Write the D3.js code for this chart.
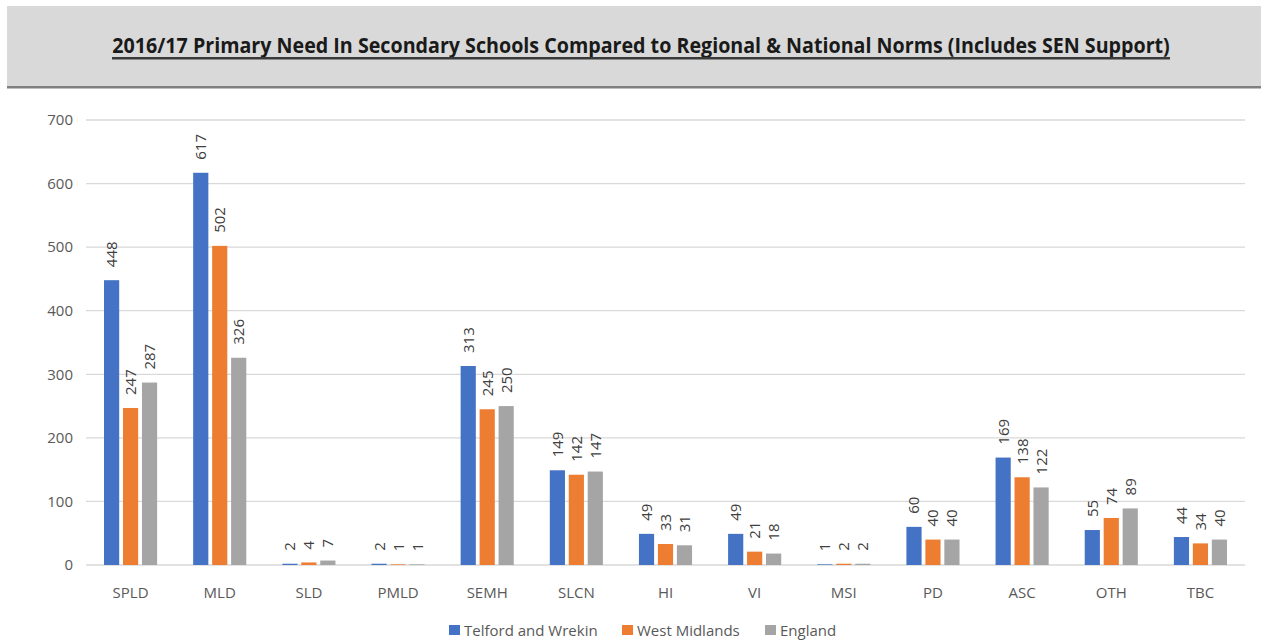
<!DOCTYPE html>
<html>
<head>
<meta charset="utf-8">
<script src="https://cdn.jsdelivr.net/npm/d3@7"></script>
<style>
  html, body { margin: 0; padding: 0; background: #ffffff; }
  svg { display: block; }
</style>
</head>
<body>
<svg id="chart" width="1261" height="641"></svg>
<script>
// Primary need categories and counts per area
const categories = ["SPLD", "MLD", "SLD", "PMLD", "SEMH", "SLCN", "HI", "VI", "MSI", "PD", "ASC", "OTH", "TBC"];
const seriesNames = ["Telford and Wrekin", "West Midlands", "England"];
const telford = [448, 617, 2, 2, 313, 149, 49, 49, 1, 60, 169, 55, 44];
const westMidlands = [247, 502, 4, 1, 245, 142, 33, 21, 2, 40, 138, 74, 34];
const england = [287, 326, 7, 1, 250, 147, 31, 18, 2, 40, 122, 89, 40];
const yTicks = [0, 100, 200, 300, 400, 500, 600, 700];
const titleText = "2016/17 Primary Need In Secondary Schools Compared to Regional & National Norms (Includes SEN Support)";

const colors = ["#4472C4", "#ED7D31", "#A5A5A5"];
const seriesValues = [telford, westMidlands, england];

const svg = d3.select("#chart");
const W = 1261;
const font = "'Open Sans', sans-serif";

// Header band
svg.append("rect").attr("x", 7).attr("y", 6).attr("width", W - 7).attr("height", 80).attr("fill", "#d9d9d9");
svg.append("rect").attr("x", 7).attr("y", 86).attr("width", W - 7).attr("height", 2.5).attr("fill", "#808080");

// Title, narrowed horizontally to a fixed width, with underline
const titleCenter = 641, titleWidth = 1058;
const title = svg.append("text")
  .attr("text-anchor", "middle")
  .attr("font-family", font)
  .attr("font-weight", "bold")
  .attr("font-size", 22)
  .attr("fill", "#1a1a1a")
  .text(titleText);
const natural = title.node().getComputedTextLength();
const sx = Math.min(1, titleWidth / natural);
title.attr("transform", `translate(${titleCenter},53) scale(${sx},1)`);
svg.append("rect").attr("x", titleCenter - titleWidth / 2).attr("y", 57)
  .attr("width", titleWidth).attr("height", 2.5).attr("fill", "#3a3a3a");

// Plot area
const x0 = d3.scaleBand().domain(categories).range([86, 1245]).paddingInner(0).paddingOuter(0);
const x1 = d3.scaleBand().domain(seriesNames).range([0, x0.bandwidth()]).paddingInner(0.2).paddingOuter(0.95);
const y = d3.scaleLinear().domain([0, 700]).range([565, 120]);

// Gridlines
svg.append("g").selectAll("line").data(yTicks).join("line")
  .attr("x1", 86).attr("x2", 1245)
  .attr("y1", d => y(d)).attr("y2", d => y(d))
  .attr("stroke", "#d9d9d9").attr("stroke-width", 1.3);

// Y axis labels
const yAxis = svg.append("g").attr("transform", "translate(79,0)")
  .call(d3.axisLeft(y).tickValues(yTicks).tickSize(0).tickPadding(6));
yAxis.select(".domain").remove();
yAxis.selectAll("text").attr("font-family", font).attr("font-size", 15).attr("fill", "#595959");

// X axis labels
const xAxis = svg.append("g").attr("transform", "translate(0,583)")
  .call(d3.axisBottom(x0).tickSize(0).tickPadding(4));
xAxis.select(".domain").remove();
xAxis.selectAll("text").attr("font-family", font).attr("font-size", 15).attr("fill", "#595959");

// Bars and value labels
const groups = svg.append("g").selectAll("g").data(categories).join("g")
  .attr("transform", d => `translate(${x0(d)},0)`);

const cells = groups.selectAll("g.cell")
  .data((c, i) => seriesNames.map((s, j) => ({ s, j, v: seriesValues[j][i] })))
  .join("g").attr("class", "cell");

cells.append("rect")
  .attr("x", d => x1(d.s))
  .attr("width", x1.bandwidth())
  .attr("y", d => y(d.v))
  .attr("height", d => y(0) - y(d.v))
  .attr("fill", d => colors[d.j]);

cells.append("text")
  .attr("transform", d => `translate(${x1(d.s) + x1.bandwidth() / 2 + 5.5},${y(d.v) - 13}) rotate(-90)`)
  .attr("text-anchor", "start")
  .attr("font-family", font)
  .attr("font-size", 15)
  .attr("fill", "#404040")
  .text(d => d.v);

// Legend
const legendX = [449, 622, 765];
const legend = svg.append("g").selectAll("g").data(seriesNames).join("g")
  .attr("transform", (d, i) => `translate(${legendX[i]},625)`);
legend.append("rect").attr("width", 11).attr("height", 10).attr("fill", (d, i) => colors[i]);
legend.append("text").attr("x", 15).attr("y", 11)
  .attr("font-family", font).attr("font-size", 15).attr("fill", "#595959")
  .text(d => d);
</script>
</body>
</html>
